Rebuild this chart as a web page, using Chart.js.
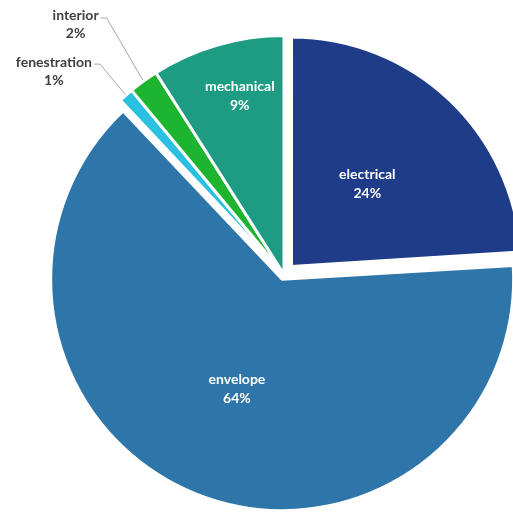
<!DOCTYPE html>
<html>
<head>
<meta charset="utf-8">
<script src="https://cdn.jsdelivr.net/npm/chart.js@4.4.1/dist/chart.umd.min.js"></script>
<style>
  html, body { margin: 0; padding: 0; background: #fff; overflow: hidden; width: 513px; height: 512px; }
  #wrap { position: absolute; left: 0; top: 0; width: 568px; height: 549px; }
</style>
</head>
<body>
<div id="wrap"><canvas id="pie"></canvas></div>
<script>
// Share of findings by building system
const categories = ['electrical', 'envelope', 'fenestration', 'interior', 'mechanical'];
const shares = [24, 64, 1, 2, 9];
const sliceColors = ['#1F3C88', '#2E75A9', '#2BBFE0', '#1DB52F', '#1E9C83'];

// How far each slice is pulled out from the centre (px) and how much
// its radius is trimmed. Arcs wider than a half circle are also grown by
// their pull-out inside Chart.js, so the envelope trim covers that too.
const explode = [11, 5, 0, 0, 0];
const radiusTrim = [9.5, 12.5, 0, 0, 0];

// Label placement per slice: inside labels sit at a fraction of the radius,
// outside labels hang on a leader line ending at an elbow.
const labelStyle = [
  { inside: true, frac: 0.487, turn: -0.5 },
  { inside: true, frac: 0.524, turn: 0.8 },
  { inside: false, elbow: [-25, -30] },
  { inside: false, elbow: [-36, -62] },
  { inside: true, frac: 0.77, turn: 2.3 }
];

const FONT = 'bold 14px Lato, "Open Sans", sans-serif';
const DEG = Math.PI / 180;

// Shrink pulled-out slices after the controller has laid them out.
const trimSlices = {
  id: 'trimSlices',
  beforeDatasetsDraw(chart) {
    chart.getDatasetMeta(0).data.forEach((arc, i) => {
      if (radiusTrim[i]) arc.outerRadius = chart.options.radius - radiusTrim[i];
    });
  }
};

const sliceLabels = {
  id: 'sliceLabels',
  afterDatasetsDraw(chart) {
    const ctx = chart.ctx;
    const meta = chart.getDatasetMeta(0);
    ctx.save();
    ctx.font = FONT;
    ctx.textBaseline = 'middle';
    meta.data.forEach((arc, i) => {
      const p = arc.getProps(['x', 'y', 'startAngle', 'endAngle', 'outerRadius'], true);
      const mid = (p.startAngle + p.endAngle) / 2;
      const off = explode[i];
      const cx = p.x + Math.cos(mid) * off;
      const cy = p.y + Math.sin(mid) * off;
      const name = categories[i];
      const pct = shares[i] + '%';
      const st = labelStyle[i];
      if (st.inside) {
        const r = p.outerRadius * st.frac;
        const a = mid + st.turn * DEG;
        const lx = cx + Math.cos(a) * r;
        const ly = cy + Math.sin(a) * r;
        ctx.fillStyle = '#ffffff';
        ctx.textAlign = 'center';
        ctx.fillText(name, lx, ly - 9.5);
        ctx.fillText(pct, lx, ly + 9.5);
      } else {
        const r = p.outerRadius + 1.5;
        const ax = cx + Math.cos(mid) * r;
        const ay = cy + Math.sin(mid) * r;
        const ex = ax + st.elbow[0];
        const ey = ay + st.elbow[1];
        ctx.strokeStyle = '#A6A6A6';
        ctx.lineWidth = 1;
        ctx.beginPath();
        ctx.moveTo(ax, ay);
        ctx.lineTo(ex, ey);
        ctx.lineTo(ex - 6, ey);
        ctx.stroke();
        const w = ctx.measureText(name).width;
        const tx = ex - 8 - w / 2;
        ctx.fillStyle = '#404040';
        ctx.textAlign = 'center';
        ctx.fillText(name, tx, ey - 2);
        ctx.fillText(pct, tx, ey + 16);
      }
    });
    ctx.restore();
  }
};

new Chart(document.getElementById('pie'), {
  type: 'pie',
  data: {
    labels: categories,
    datasets: [{
      data: shares,
      backgroundColor: sliceColors,
      borderColor: '#ffffff',
      borderWidth: 3,
      // the arc element moves a slice by a quarter of its offset option
      offset: explode.map(v => v * 4)
    }]
  },
  options: {
    responsive: true,
    maintainAspectRatio: false,
    animation: false,
    radius: 239,
    layout: { padding: 0 },
    plugins: {
      legend: { display: false },
      tooltip: { enabled: false }
    }
  },
  plugins: [trimSlices, sliceLabels]
});
</script>
</body>
</html>
